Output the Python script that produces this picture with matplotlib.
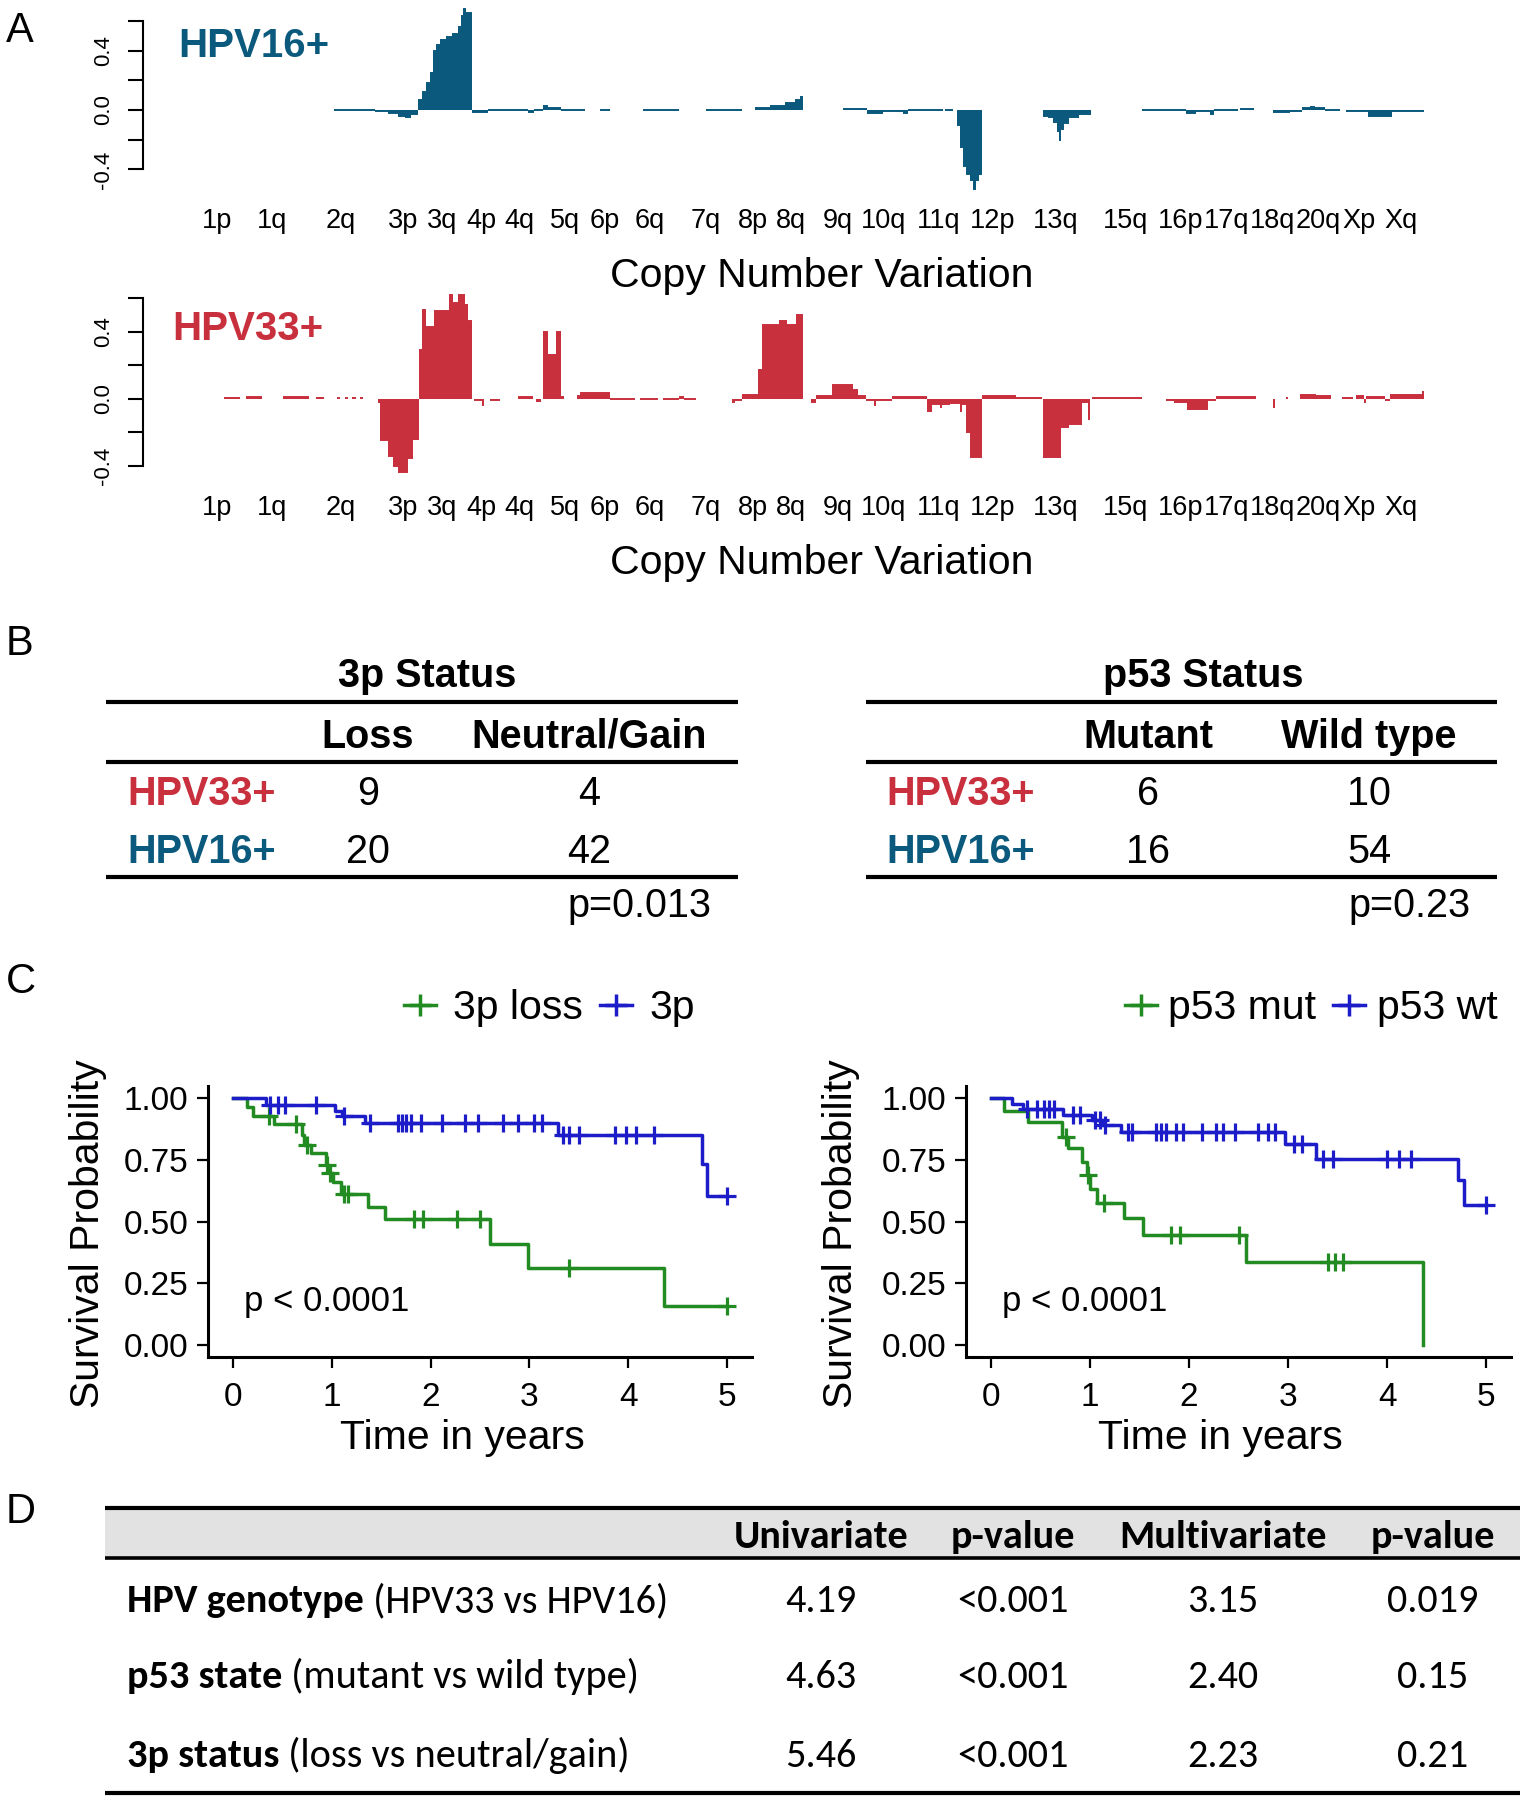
import numpy as np
import matplotlib.pyplot as plt
from matplotlib import font_manager
from matplotlib.lines import Line2D

W, H = 1526, 1800
installed = {f.name for f in font_manager.fontManager.ttflist}
SANS = 'Liberation Sans'
CAL = next((n for n in ['Carlito', 'Lato', 'Open Sans'] if n in installed), 'DejaVu Sans')
plt.rcParams['font.family'] = [SANS, 'DejaVu Sans']

BLUE16 = '#0b5a7d'
RED33 = '#c9303e'
GREEN = '#228b22'
BLUE = '#1c1cc8'

# ---- panel A: copy number segments (start, end, mean CNV) ----
arm_names = ['1p', '1q', '2q', '3p', '3q', '4p', '4q', '5q', '6p', '6q', '7q', '8p', '8q',
             '9q', '10q', '11q', '12p', '13q', '15q', '16p', '17q', '18q', '20q', 'Xp', 'Xq']
arm_pos = [217, 272, 341, 403, 442, 481, 519, 565, 605, 650, 706, 753, 791,
           838, 884, 939, 993, 1056, 1126, 1181, 1227, 1273, 1318, 1359, 1401]

cnv_hpv16 = [
    (334, 375, 0.0), (375, 388, -0.005), (388, 398, -0.02), (398, 405, -0.04), (405, 411, -0.05),
    (411, 418, -0.03), (418, 422, 0.07), (422, 426, 0.12), (426, 430, 0.18), (430, 433, 0.25),
    (433, 436, 0.40), (436, 440, 0.44), (440, 446, 0.47), (446, 452, 0.49), (452, 458, 0.51),
    (458, 461, 0.56), (461, 463, 0.63), (463, 466, 0.68), (466, 472, 0.65), (472, 488, -0.015),
    (488, 528, -0.003), (528, 534, -0.015), (534, 543, 0.0), (543, 548, 0.025), (548, 561, 0.015),
    (561, 585, 0.0), (600, 610, 0.0), (643, 679, 0.0), (706, 742, 0.0), (755, 770, 0.015),
    (770, 785, 0.03), (785, 795, 0.045), (795, 800, 0.065), (800, 803, 0.09), (843, 867, 0.005),
    (867, 883, -0.02), (883, 903, -0.005), (903, 908, -0.02), (908, 943, -0.003), (945, 953, 0.0),
    (957, 960, -0.10), (960, 963, -0.25), (963, 966, -0.38), (966, 970, -0.43), (970, 973, -0.47),
    (973, 976, -0.53), (976, 979, -0.47), (979, 982, -0.43), (1043, 1048, -0.04), (1048, 1053, -0.05),
    (1053, 1057, -0.08), (1057, 1059, -0.14), (1059, 1061, -0.20), (1061, 1064, -0.13),
    (1064, 1069, -0.09), (1069, 1079, -0.05), (1079, 1091, -0.03), (1142, 1186, 0.0),
    (1186, 1196, -0.02), (1196, 1210, -0.005), (1210, 1214, -0.025), (1214, 1238, -0.003),
    (1240, 1254, 0.005), (1273, 1290, -0.015), (1290, 1302, -0.005), (1302, 1310, 0.01),
    (1310, 1315, 0.02), (1315, 1325, 0.01), (1325, 1340, 0.0), (1346, 1368, -0.01),
    (1368, 1392, -0.04), (1392, 1424, -0.01),
]
cnv_hpv33 = [
    (224, 240, 0.005), (246, 262, 0.008), (283, 309, 0.008), (316, 324, 0.005), (337, 340, 0.005),
    (345, 348, 0.005), (352, 356, 0.005), (360, 363, 0.005), (378, 380, -0.02), (380, 388, -0.245),
    (388, 393, -0.34), (393, 398, -0.40), (398, 408, -0.435), (408, 413, -0.35), (413, 419, -0.24),
    (419, 422, 0.29), (422, 426, 0.53), (426, 434, 0.43), (434, 449, 0.52), (449, 453, 0.62),
    (453, 458, 0.57), (458, 465, 0.62), (465, 468, 0.56), (468, 472, 0.46), (474, 482, -0.008),
    (482, 484, -0.04), (490, 500, -0.005), (518, 533, 0.008), (536, 541, -0.015), (543, 548, 0.40),
    (548, 556, 0.26), (556, 561, 0.40), (561, 564, 0.01), (577, 580, 0.015), (580, 610, 0.035),
    (610, 635, -0.004), (640, 658, -0.004), (663, 679, -0.004), (679, 684, 0.012), (684, 696, 0.0),
    (732, 735, -0.02), (735, 742, -0.005), (742, 758, 0.02), (758, 762, 0.17), (762, 779, 0.44),
    (779, 787, 0.46), (787, 796, 0.44), (796, 803, 0.50), (811, 816, -0.02), (816, 832, 0.015),
    (832, 853, 0.08), (853, 858, 0.05), (858, 866, 0.015), (866, 874, -0.01), (874, 876, -0.04),
    (876, 892, -0.005), (892, 927, 0.01), (927, 932, -0.07), (932, 940, -0.03), (940, 942, -0.05),
    (942, 950, -0.03), (950, 960, -0.025), (960, 962, -0.07), (962, 966, -0.03), (966, 970, -0.2),
    (970, 982, -0.345), (982, 1016, 0.015), (1016, 1042, 0.003), (1043, 1061, -0.345),
    (1061, 1069, -0.17), (1069, 1082, -0.15), (1082, 1088, -0.02), (1088, 1090, -0.12),
    (1092, 1142, 0.005), (1166, 1174, -0.01), (1174, 1187, -0.02), (1187, 1208, -0.06),
    (1208, 1216, -0.005), (1216, 1256, 0.012), (1273, 1275, -0.05), (1286, 1288, 0.005),
    (1300, 1316, 0.025), (1316, 1331, 0.015), (1342, 1353, 0.005), (1356, 1364, 0.015),
    (1364, 1366, -0.02), (1366, 1385, 0.01), (1385, 1390, -0.01), (1390, 1422, 0.02),
    (1422, 1424, 0.04),
]

# ---- panel B: contingency tables ----
groups = ['HPV33+', 'HPV16+']
group_colors = [RED33, BLUE16]
cols_3p = ['Loss', 'Neutral/Gain']
counts_3p = [[9, 4], [20, 42]]
pval_3p = 'p=0.013'
cols_p53 = ['Mutant', 'Wild type']
counts_p53 = [[6, 10], [16, 54]]
pval_p53 = 'p=0.23'

# ---- panel C: Kaplan-Meier steps (event times, survival after event, censor times) ----
loss_t = [0.14, 0.20, 0.42, 0.70, 0.72, 0.79, 0.94, 0.97, 1.01, 1.09, 1.37, 1.54, 2.60, 2.99, 4.36]
loss_s = [0.965, 0.93, 0.896, 0.85, 0.81, 0.78, 0.73, 0.695, 0.66, 0.61, 0.56, 0.51, 0.41, 0.31, 0.155]
loss_c = [0.37, 0.64, 0.75, 0.95, 0.98, 1.12, 1.17, 1.83, 1.92, 2.27, 2.50, 3.40, 5.0]
keep_t = [0.34, 1.03, 1.10, 1.34, 3.29, 4.74, 4.79]
keep_s = [0.972, 0.95, 0.927, 0.90, 0.85, 0.735, 0.605]
keep_c = [0.38, 0.46, 0.53, 0.84, 1.12, 1.39, 1.67, 1.71, 1.75, 1.80, 1.90, 2.12, 2.35, 2.48,
          2.73, 2.88, 3.05, 3.13, 3.34, 3.40, 3.50, 3.86, 3.98, 4.08, 4.26, 5.0]
mut_t = [0.13, 0.38, 0.72, 0.78, 0.92, 0.97, 1.00, 1.07, 1.34, 1.54, 2.58, 4.36]
mut_s = [0.947, 0.905, 0.843, 0.80, 0.74, 0.687, 0.633, 0.575, 0.515, 0.447, 0.337, 0.0]
mut_c = [0.76, 0.98, 1.14, 1.82, 1.91, 2.50, 3.40, 3.47, 3.55]
wt_t = [0.21, 0.33, 0.73, 1.02, 1.12, 1.31, 2.97, 3.28, 4.72, 4.78]
wt_s = [0.978, 0.958, 0.931, 0.91, 0.89, 0.863, 0.816, 0.755, 0.667, 0.565]
wt_c = [0.37, 0.47, 0.54, 0.59, 0.64, 0.83, 0.90, 1.05, 1.10, 1.15, 1.38, 1.43, 1.67, 1.72, 1.77,
        1.87, 1.94, 2.13, 2.27, 2.34, 2.46, 2.70, 2.80, 2.87, 3.06, 3.14, 3.35, 3.45, 4.00, 4.12,
        4.24, 5.0]

# ---- panel D: hazard ratio table ----
d_header = ['Univariate', 'p-value', 'Multivariate', 'p-value']
d_bold = ['HPV genotype', 'p53 state', '3p status']
d_rest = [' (HPV33 vs HPV16)', ' (mutant vs wild type)', ' (loss vs neutral/gain)']
d_univ = ['4.19', '4.63', '5.46']
d_univ_p = ['<0.001', '<0.001', '<0.001']
d_multi = ['3.15', '2.40', '2.23']
d_multi_p = ['0.019', '0.15', '0.21']


fig = plt.figure(figsize=(W / 100, H / 100), dpi=100)

# overlay in pixel units for tables and panel letters
tab = fig.add_axes([0, 0, 1, 1])
tab.set_xlim(0, W)
tab.set_ylim(H, 0)
tab.axis('off')
tab.patch.set_alpha(0)


def px_axes(x0, y0, x1, y1):
    ax = fig.add_axes([x0 / W, 1 - y1 / H, (x1 - x0) / W, (y1 - y0) / H])
    ax.patch.set_visible(False)
    return ax


def cnv_panel(y0, y1, ylim, segs, color, name, name_x, name_y):
    ax = px_axes(143, y0, 1440, y1)
    s, e, v = map(np.array, zip(*segs))
    ax.bar(s, v, width=e - s, align='edge', color=color, linewidth=0)
    ax.hlines(v, s, e, color=color, linewidth=1.4)
    ax.set_xlim(143, 1440)
    ax.set_ylim(*ylim)
    for side in ['top', 'right', 'bottom']:
        ax.spines[side].set_visible(False)
    ax.spines['left'].set_bounds(-0.4, 0.6)
    ax.spines['left'].set_linewidth(1.5)
    ax.set_yticks(np.arange(-0.4, 0.61, 0.2))
    ax.set_yticklabels(['-0.4', '', '0.0', '', '0.4', ''], rotation=90, va='center')
    ax.tick_params(axis='y', length=11, width=1.5, pad=10, labelsize=16)
    ax.set_xticks(arm_pos, arm_names)
    ax.tick_params(axis='x', length=0, pad=4, labelsize=19.5)
    ax.set_xlabel('Copy Number Variation', fontsize=29.5, labelpad=17, x=(822 - 143) / 1297)
    ax.text(name_x, name_y, name, color=color, fontsize=29, fontweight='bold', va='baseline')
    return ax


cnv_panel(3.0, 202.1, (-0.62, 0.72), cnv_hpv16, BLUE16, 'HPV16+', 178, 0.357)
cnv_panel(277.8, 489.0, (-0.537, 0.72), cnv_hpv33, RED33, 'HPV33+', 172, 0.35)


# ---- B ----
def count_table(title, cols, counts, pval, x0, x1, title_x, col_x, lab_x, p_x):
    fs = 28.5
    tab.text(title_x, 687, title, fontsize=fs, fontweight='bold', ha='center', va='baseline')
    for y in [702, 762, 877]:
        tab.plot([x0, x1], [y, y], color='black', lw=3, solid_capstyle='butt')
    for cx, c in zip(col_x, cols):
        tab.text(cx, 748, c, fontsize=fs, fontweight='bold', ha='center', va='baseline')
    for yb, g, gc, row in zip([805, 863], groups, group_colors, counts):
        tab.text(lab_x, yb, g, fontsize=fs, fontweight='bold', color=gc, va='baseline')
        for cx, n in zip(col_x, row):
            tab.text(cx, yb, str(n), fontsize=fs, ha='center', va='baseline')
    tab.text(p_x, 917, pval, fontsize=fs, ha='right', va='baseline')


count_table('3p Status', cols_3p, counts_3p, pval_3p, 106, 738, 427, [368, 589], 127, 711)
count_table('p53 Status', cols_p53, counts_p53, pval_p53, 866, 1497, 1203, [1148, 1369], 886, 1471)


# ---- C ----
def km(ax, times, surv, cens, color):
    t = np.r_[0, times, max(max(cens), times[-1]) if surv[-1] > 0 else times[-1]]
    s = np.r_[1, surv, surv[-1]]
    ax.step(t, s, where='post', color=color, lw=2.5)
    cy = s[np.searchsorted(t, cens, side='right') - 1]
    ax.plot(cens, cy, '+', color=color, ms=13, mew=2.3, ls='none')


def km_panel(x0, x1, curves, labels, leg_x, textpad, ylabelpad):
    ax = px_axes(x0, 1086, x1, 1357)
    for (t, s, c), col in zip(curves, [GREEN, BLUE]):
        km(ax, t, s, c, col)
    ax.set_xlim(-0.25, 5.25)
    ax.set_ylim(-0.05, 1.05)
    for side in ['top', 'right']:
        ax.spines[side].set_visible(False)
    for side in ['left', 'bottom']:
        ax.spines[side].set_linewidth(2.2)
    ax.set_xticks(range(6))
    ax.set_yticks([0, 0.25, 0.5, 0.75, 1.0], ['0.00', '0.25', '0.50', '0.75', '1.00'])
    ax.tick_params(length=8, width=1.6, labelsize=24)
    ax.tick_params(axis='x', pad=10)
    ax.tick_params(axis='y', pad=6)
    ax.set_xlabel('Time in years', fontsize=29.5, labelpad=4, x=0.467)
    ax.set_ylabel('Survival Probability', fontsize=29.5, labelpad=ylabelpad, y=0.455)
    ax.text(0.11, 0.138, 'p < 0.0001', fontsize=25, va='baseline')
    handles = [Line2D([], [], color=c, lw=2.5, marker='+', ms=16, mew=2.5) for c in [GREEN, BLUE]]
    fig.legend(handles, labels, loc='center left', bbox_to_anchor=(leg_x / W, 1 - 1008 / H),
               frameon=False, ncol=2, fontsize=29.5, handlelength=0.78, handletextpad=textpad,
               columnspacing=0.41, borderpad=0, borderaxespad=0)
    return ax


km_panel(208, 752, [(loss_t, loss_s, loss_c), (keep_t, keep_s, keep_c)], ['3p loss', '3p'],
         404, 0.42, 12)
km_panel(966, 1511, [(mut_t, mut_s, mut_c), (wt_t, wt_s, wt_c)], ['p53 mut', 'p53 wt'],
         1125, 0.28, 16)

# ---- D ----
DFS = 29
tab.add_patch(plt.Rectangle((105, 1508), 1415, 50, color='#e2e2e2', lw=0))
for y, lw in [(1508, 3), (1558, 2.6), (1793, 3)]:
    tab.plot([105, 1520], [y, y], color='black', lw=lw, solid_capstyle='butt')
d_cols = [821, 1013, 1223, 1433]
for cx, h in zip(d_cols, d_header):
    tab.text(cx, 1548, h, family=CAL, fontsize=DFS, fontweight='bold', ha='center', va='baseline')
renderer = fig.canvas.get_renderer()
for yb, b, rest, *vals in zip([1612, 1688, 1767], d_bold, d_rest, d_univ, d_univ_p, d_multi, d_multi_p):
    tb = tab.text(127, yb, b, family=CAL, fontsize=DFS, fontweight='bold', va='baseline')
    xe = tab.transData.inverted().transform((tb.get_window_extent(renderer).x1, 0))[0]
    tab.text(xe, yb, rest, family=CAL, fontsize=DFS, va='baseline')
    for cx, v in zip(d_cols, vals):
        tab.text(cx, yb, v, family=CAL, fontsize=DFS, ha='center', va='baseline')

# panel letters
for letter, yb in zip('ABCD', [42, 655, 993, 1523]):
    tab.text(6, yb, letter, fontsize=30, va='baseline')

fig.savefig('out.png', dpi=100)
